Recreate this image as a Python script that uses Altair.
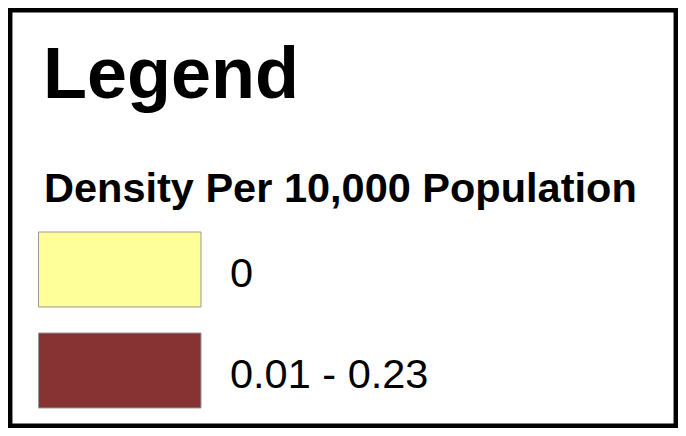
import altair as alt
import pandas as pd

# Data
heading = ["Legend"]
subheading = ["Density Per 10,000 Population"]
labels = ["0", "0.01 - 0.23"]
colors = ["#FFFF99", "#883333"]

FONT = "Arial, Liberation Sans, Helvetica, sans-serif"
W, H = 670, 420  # whole chart; page adds an 8px margin

items = pd.DataFrame({"label": labels, "color": colors})
yscale = alt.Scale(domain=labels, range=[224, 400], paddingInner=0.2574, paddingOuter=0)

border = alt.Chart(pd.DataFrame({"k": [0]})).mark_rect(
    fill="white", stroke="black", strokeWidth=4.5
).encode(
    x=alt.value(2.2), x2=alt.value(W - 2.2), y=alt.value(2.2), y2=alt.value(H - 2.2)
)

title = alt.Chart(pd.DataFrame({"t": heading})).mark_text(
    font=FONT, fontSize=72, fontWeight="bold", align="left", baseline="alphabetic", color="black"
).encode(text="t:N", x=alt.value(35), y=alt.value(90))

sub = alt.Chart(pd.DataFrame({"t": subheading})).mark_text(
    font=FONT, fontSize=41.5, fontWeight="bold", align="left", baseline="alphabetic", color="black"
).encode(text="t:N", x=alt.value(36), y=alt.value(194))

swatches = alt.Chart(items).mark_rect(stroke="#999999", strokeWidth=1).encode(
    y=alt.Y("label:N", scale=yscale, axis=None),
    x=alt.value(30.5), x2=alt.value(193),
    fill=alt.Fill("color:N", scale=None),
)

texts = alt.Chart(items).mark_text(
    font=FONT, fontSize=41.5, align="left", baseline="alphabetic", dy=17.5, color="black"
).encode(
    y=alt.Y("label:N", scale=yscale, axis=None),
    x=alt.value(222),
    text="label:N",
)

chart = alt.layer(border, title, sub, swatches, texts).properties(
    width=W, height=H,
    padding=0,
    autosize=alt.AutoSizeParams(type="none"),
    background="white",
).configure_view(stroke=None)

chart.save("out.html", embed_options={"renderer": "svg", "actions": False})
